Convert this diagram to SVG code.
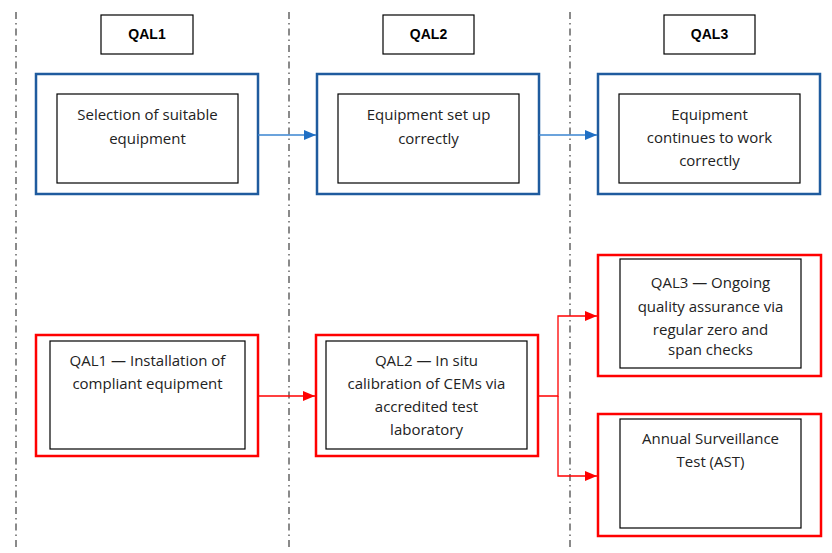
<svg xmlns="http://www.w3.org/2000/svg" width="832" height="553" viewBox="0 0 832 553">
<style>
.sep{stroke:#8a8a8a;stroke-width:2;stroke-dasharray:7 4 1.5 4;fill:none}
.hdr{fill:#fff;stroke:#000;stroke-width:1.2}
.ht{font-family:"Liberation Sans",Arial,sans-serif;font-weight:bold;font-size:14px;fill:#000;text-anchor:middle}
.bo{fill:#fff;stroke:#1f5b9e;stroke-width:2.5}
.ro{fill:#fff;stroke:#ff0000;stroke-width:2.5}
.in{fill:#fff;stroke:#000;stroke-width:1.2}
.t{font-family:"Open Sans","Liberation Sans",sans-serif;font-size:15px;fill:#222;text-anchor:middle}
.bl{stroke:#3a84d0;stroke-width:1.3;fill:none}
.rl{stroke:#ff0000;stroke-width:1.3;fill:none}
</style>
<defs>
<marker id="ab" markerWidth="12" markerHeight="10" refX="12" refY="5" orient="auto" markerUnits="userSpaceOnUse"><path d="M0,0 L12,5 L0,10 z" fill="#1f6fc4"/></marker>
<marker id="ar" markerWidth="12" markerHeight="10" refX="12" refY="5" orient="auto" markerUnits="userSpaceOnUse"><path d="M0,0 L12,5 L0,10 z" fill="#ff0000"/></marker>
</defs>
<rect width="832" height="553" fill="#fff"/>
<g id="separators">
<line class="sep" x1="16" y1="12" x2="16" y2="550"/>
<line class="sep" x1="289" y1="12" x2="289" y2="550"/>
<line class="sep" x1="570" y1="12" x2="570" y2="550"/>
</g>
<g id="h1"><rect class="hdr" x="101" y="15" width="92" height="39"/><text class="ht" x="147" y="39">QAL1</text></g>
<g id="h2"><rect class="hdr" x="383" y="15" width="91" height="39"/><text class="ht" x="428.5" y="39">QAL2</text></g>
<g id="h3"><rect class="hdr" x="664" y="15" width="91" height="39"/><text class="ht" x="709.5" y="39">QAL3</text></g>
<g id="b1"><rect class="bo" x="36" y="74" width="222" height="120"/><rect class="in" x="57" y="94" width="181" height="89"/>
<text class="t" x="147.5" y="120">Selection of suitable</text><text class="t" x="147.5" y="144">equipment</text></g>
<g id="b2"><rect class="bo" x="317" y="74" width="222" height="120"/><rect class="in" x="338" y="94" width="181" height="89"/>
<text class="t" x="428.5" y="120">Equipment set up</text><text class="t" x="428.5" y="144">correctly</text></g>
<g id="b3"><rect class="bo" x="598" y="74" width="222" height="120"/><rect class="in" x="619" y="94" width="181" height="89"/>
<text class="t" x="709.5" y="120">Equipment</text><text class="t" x="709.5" y="143">continues to work</text><text class="t" x="709.5" y="166">correctly</text></g>
<g id="r1"><rect class="ro" x="36" y="335" width="222" height="121"/><rect class="in" x="50" y="341" width="195" height="108"/>
<text class="t" x="147.5" y="366">QAL1 — Installation of</text><text class="t" x="147.5" y="389">compliant equipment</text></g>
<g id="r2"><rect class="ro" x="316" y="335" width="222" height="121"/><rect class="in" x="326" y="341" width="201" height="108"/>
<text class="t" x="426.5" y="366">QAL2 — In situ</text><text class="t" x="426.5" y="389">calibration of CEMs via</text><text class="t" x="426.5" y="412">accredited test</text><text class="t" x="426.5" y="435">laboratory</text></g>
<g id="r3"><rect class="ro" x="598" y="255" width="223" height="121"/><rect class="in" x="620" y="259" width="181" height="109"/>
<text class="t" x="710.5" y="288">QAL3 — Ongoing</text><text class="t" x="710.5" y="312">quality assurance via</text><text class="t" x="710.5" y="335">regular zero and</text><text class="t" x="710.5" y="355">span checks</text></g>
<g id="r4"><rect class="ro" x="598" y="414" width="223" height="122"/><rect class="in" x="620" y="419" width="181" height="109"/>
<text class="t" x="710.5" y="444">Annual Surveillance</text><text class="t" x="710.5" y="467">Test (AST)</text></g>
<g id="connectors">
<line class="bl" x1="258" y1="135" x2="316" y2="135" marker-end="url(#ab)"/>
<line class="bl" x1="539" y1="135" x2="597" y2="135" marker-end="url(#ab)"/>
<line class="rl" x1="258" y1="396" x2="315" y2="396" marker-end="url(#ar)"/>
<polyline class="rl" points="538,396 558,396 558,316 597,316" marker-end="url(#ar)"/>
<polyline class="rl" points="558,396 558,476 597,476" marker-end="url(#ar)"/>
</g>
</svg>
